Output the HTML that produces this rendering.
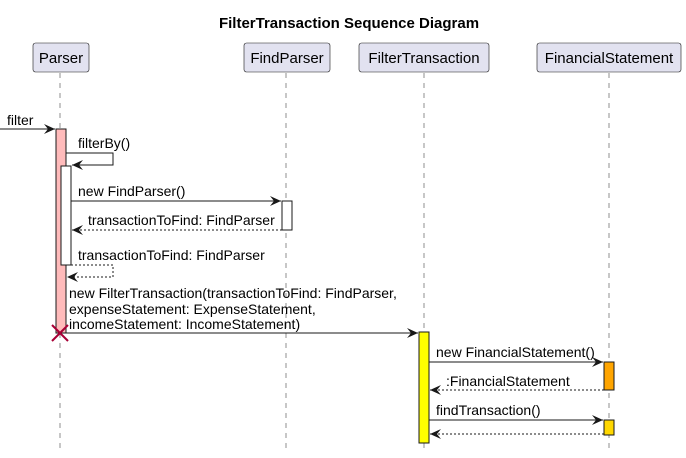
<!DOCTYPE html>
<html><head><meta charset="utf-8"><style>
html,body{margin:0;padding:0;background:#fff;width:686px;height:458px;overflow:hidden}
text{font-family:"Liberation Sans",sans-serif;font-size:14px;fill:#000}
</style></head><body>
<svg width="686" height="458" viewBox="0 0 686 458" xmlns="http://www.w3.org/2000/svg">
<defs>
<marker id="a" markerWidth="12" markerHeight="10" refX="11" refY="5" orient="auto" markerUnits="userSpaceOnUse">
<polygon points="0,0 11,5 0,10 4,5" fill="#181818"/>
</marker>
</defs>
<text x="349" y="28" text-anchor="middle" style="font-weight:bold;font-size:15px">FilterTransaction Sequence Diagram</text>
<g stroke="#181818" stroke-width="0.6" stroke-dasharray="5,5" opacity="0.8">
<line x1="60" y1="73" x2="60" y2="450"/>
<line x1="286" y1="73" x2="286" y2="450"/>
<line x1="424" y1="73" x2="424" y2="450"/>
<line x1="609" y1="73" x2="609" y2="450"/>
</g>
<g fill="#E2E2F0" stroke="#181818" stroke-width="0.6">
<rect x="33" y="43" width="56" height="29" rx="2.5"/>
<rect x="244" y="43" width="86" height="29" rx="2.5"/>
<rect x="359" y="43" width="130" height="29" rx="2.5"/>
<rect x="537" y="43" width="144" height="29" rx="2.5"/>
</g>
<text x="61" y="63" text-anchor="middle" style="font-size:15px">Parser</text>
<text x="287" y="63" text-anchor="middle" style="font-size:15px">FindParser</text>
<text x="424" y="63" text-anchor="middle" style="font-size:15px">FilterTransaction</text>
<text x="609" y="63" text-anchor="middle" style="font-size:15px">FinancialStatement</text>
<rect x="56" y="129" width="10" height="204" fill="#FFBBBB" stroke="#181818" stroke-width="1"/>
<rect x="61" y="166" width="10" height="99" fill="#fff" stroke="#181818" stroke-width="1"/>
<rect x="282" y="201" width="10" height="29" fill="#fff" stroke="#181818" stroke-width="1"/>
<rect x="419" y="332" width="10" height="111" fill="#FFFF00" stroke="#181818" stroke-width="1"/>
<rect x="604" y="362" width="10" height="28" fill="#FFA500" stroke="#181818" stroke-width="1"/>
<rect x="604" y="420" width="10" height="15" fill="#FFD700" stroke="#181818" stroke-width="1"/>
<g stroke="#181818" stroke-width="1" fill="none">
<line x1="0" y1="129" x2="55" y2="129" marker-end="url(#a)"/>
<polyline points="66,153 113,153 113,165 72,165" marker-end="url(#a)"/>
<line x1="71" y1="201" x2="281" y2="201" marker-end="url(#a)"/>
<line x1="282" y1="230" x2="72" y2="230" stroke-dasharray="2,2" marker-end="url(#a)"/>
<polyline points="71,265 113,265 113,277 67,277" stroke-dasharray="2,2" marker-end="url(#a)"/>
<line x1="66" y1="333" x2="418" y2="333" marker-end="url(#a)"/>
<line x1="429" y1="362" x2="603" y2="362" marker-end="url(#a)"/>
<line x1="604" y1="390" x2="430" y2="390" stroke-dasharray="2,2" marker-end="url(#a)"/>
<line x1="429" y1="420" x2="603" y2="420" marker-end="url(#a)"/>
<line x1="604" y1="434" x2="430" y2="434" stroke-dasharray="2,2" marker-end="url(#a)"/>
</g>
<g stroke="#A80036" stroke-width="2">
<line x1="52" y1="325" x2="68" y2="341"/>
<line x1="68" y1="325" x2="52" y2="341"/>
</g>
<text x="7" y="125">filter</text>
<text x="78" y="148">filterBy()</text>
<text x="78" y="196">new FindParser()</text>
<text x="88" y="225">transactionToFind: FindParser</text>
<text x="78" y="260">transactionToFind: FindParser</text>
<text x="69" y="298">new FilterTransaction(transactionToFind: FindParser,</text>
<text x="69" y="314">expenseStatement: ExpenseStatement,</text>
<text x="69" y="329">incomeStatement: IncomeStatement)</text>
<text x="436" y="357">new FinancialStatement()</text>
<text x="446" y="386">:FinancialStatement</text>
<text x="436" y="415">findTransaction()</text>
</svg>
</body></html>
